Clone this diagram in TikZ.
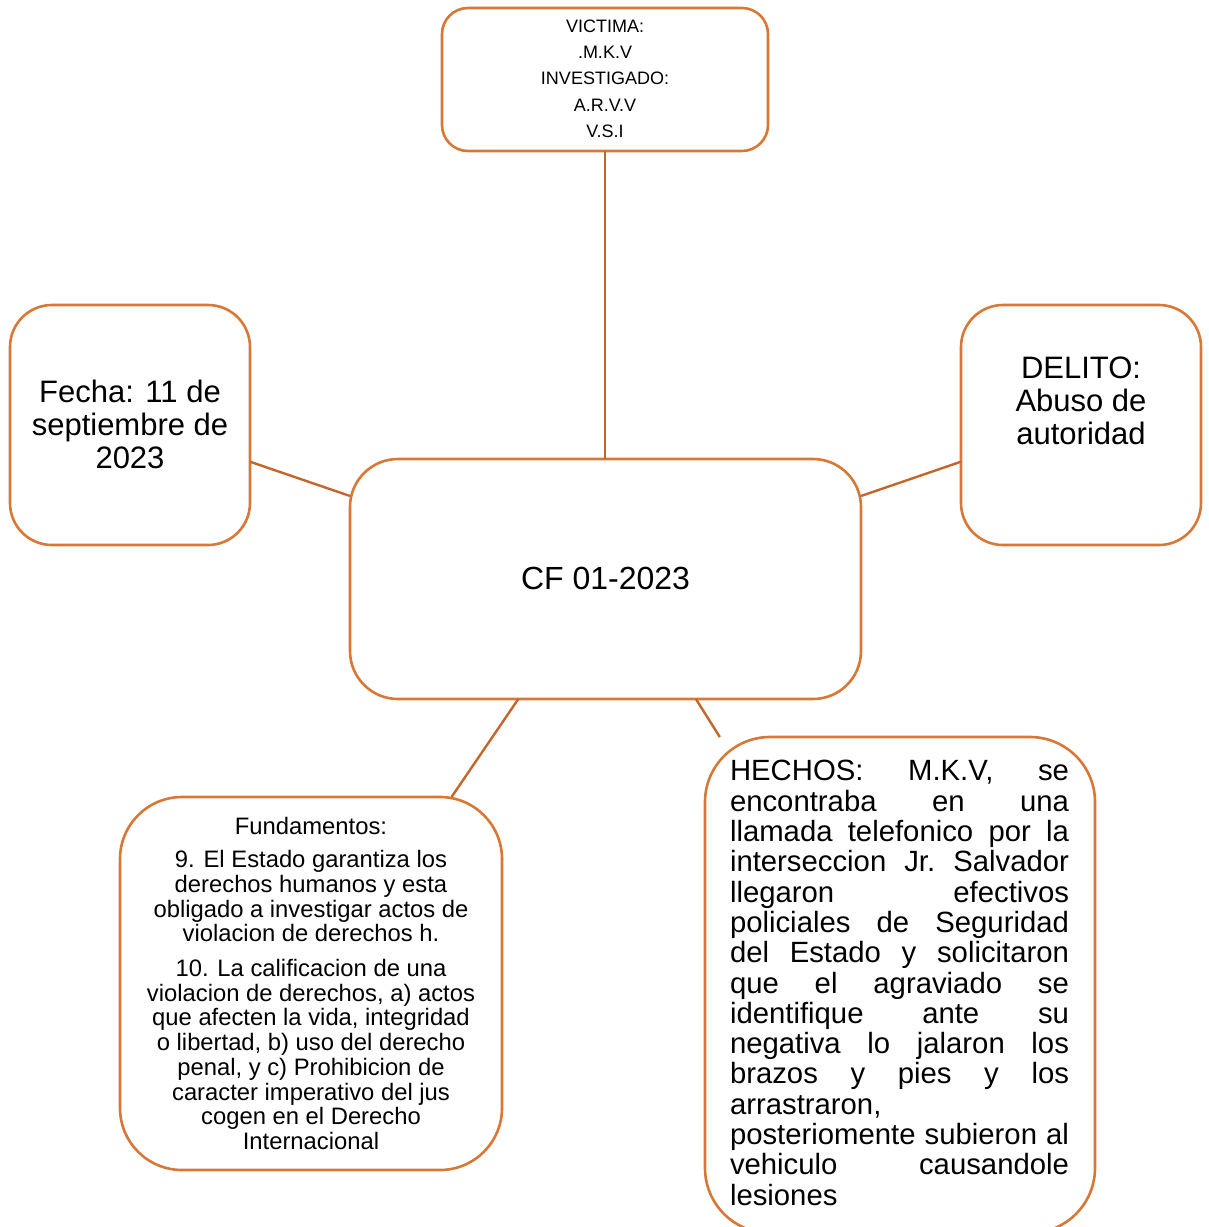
\documentclass[tikz,border=0pt]{standalone}
\usepackage{fontspec}
\setmainfont{Liberation Sans}
\definecolor{boxor}{RGB}{217,120,54}
\definecolor{lnor}{RGB}{196,102,42}
\newcommand{\jline}[1]{\leavevmode\hbox to 339pt{#1}}
\begin{document}
\begin{tikzpicture}[x=1pt,y=-1pt,
  box/.style={draw=boxor, line width=2.6pt, fill=white, inner sep=0pt, outer sep=0pt},
  conn/.style={draw=lnor, line width=2.4pt},
  txt/.style={inner sep=0pt, outer sep=0pt, text=black, align=center}]
\useasboundingbox (0,0) rectangle (1209,1227);
\begin{scope}
\clip (0,0) rectangle (1209,1227);
% boxes
\node[box, minimum width=326pt, minimum height=143pt, rounded corners=26pt] (top) at (605,79.5) {};
\node[box, minimum width=240pt, minimum height=240pt, rounded corners=42pt] (fecha) at (130,425) {};
\node[box, minimum width=240pt, minimum height=240pt, rounded corners=42pt] (delito) at (1081,425) {};
\node[box, minimum width=511pt, minimum height=240pt, rounded corners=48pt] (c) at (605.5,579) {};
\node[box, minimum width=382pt, minimum height=373pt, rounded corners=62pt] (fund) at (311,983.5) {};
\node[box, minimum width=390pt, minimum height=496pt, rounded corners=65pt] (hech) at (900,985) {};
% connectors
\draw[conn] (top.south) -- (top.south |- c.north);
\draw[conn] (fecha.-17.6) -- (c.162.2);
\draw[conn] (c.18.2) -- (delito.197.6);
\draw[conn] (c.-126.1) -- (fund.53.9);
\draw[conn] (c.-53.9) -- (hech.126.0);
% texts
\node[txt, font=\fontsize{18}{26.3}\selectfont] (toptxt) at (605,78.5)
  {VICTIMA:\\.M.K.V\\INVESTIGADO:\\A.R.V.V\\V.S.I};
\node[txt, font=\fontsize{31}{33}\selectfont] (fechatxt) at (130,424)
  {Fecha: 11 de\\septiembre de\\2023};
\node[txt, font=\fontsize{31}{33}\selectfont] (delitotxt) at (1081,401)
  {DELITO:\\Abuso de\\autoridad};
\node[txt, font=\fontsize{32}{34}\selectfont] (ctxt) at (605.5,578) {CF 01-2023};
\node[txt, anchor=north, font=\fontsize{23.8}{24.7}\selectfont] (fundtxt) at (311,817.5)
  {Fundamentos:\\[8.3pt]
   9. El Estado garantiza los\\
   derechos humanos y esta\\
   obligado a investigar actos de\\
   violacion de derechos h.\\[10pt]
   10. La calificacion de una\\
   violacion de derechos, a) actos\\
   que afecten la vida, integridad\\
   o libertad, b) uso del derecho\\
   penal, y c) Prohibicion de\\
   caracter imperativo del jus\\
   cogen en el Derecho\\
   Internacional};
\node[inner sep=0pt, outer sep=0pt, anchor=north west, text width=339pt, align=left,
      font=\fontsize{29.3}{30.3}\selectfont] (hechtxt) at (730,760.5)
  {\jline{HECHOS:\hfill M.K.V,\hfill se}\\
   \jline{encontraba\hfill en\hfill una}\\
   \jline{llamada\hfill telefonico\hfill por\hfill la}\\
   \jline{interseccion\hfill Jr.\hfill Salvador}\\
   \jline{llegaron\hfill efectivos}\\
   \jline{policiales\hfill de\hfill Seguridad}\\
   \jline{del\hfill Estado\hfill y\hfill solicitaron}\\
   \jline{que\hfill el\hfill agraviado\hfill se}\\
   \jline{identifique\hfill ante\hfill su}\\
   \jline{negativa\hfill lo\hfill jalaron\hfill los}\\
   \jline{brazos\hfill y\hfill pies\hfill y\hfill los}\\
   arrastraron,\\
   \jline{posteriomente\hfill subieron\hfill al}\\
   \jline{vehiculo\hfill causandole}\\
   lesiones};
\end{scope}
\end{tikzpicture}
\end{document}
